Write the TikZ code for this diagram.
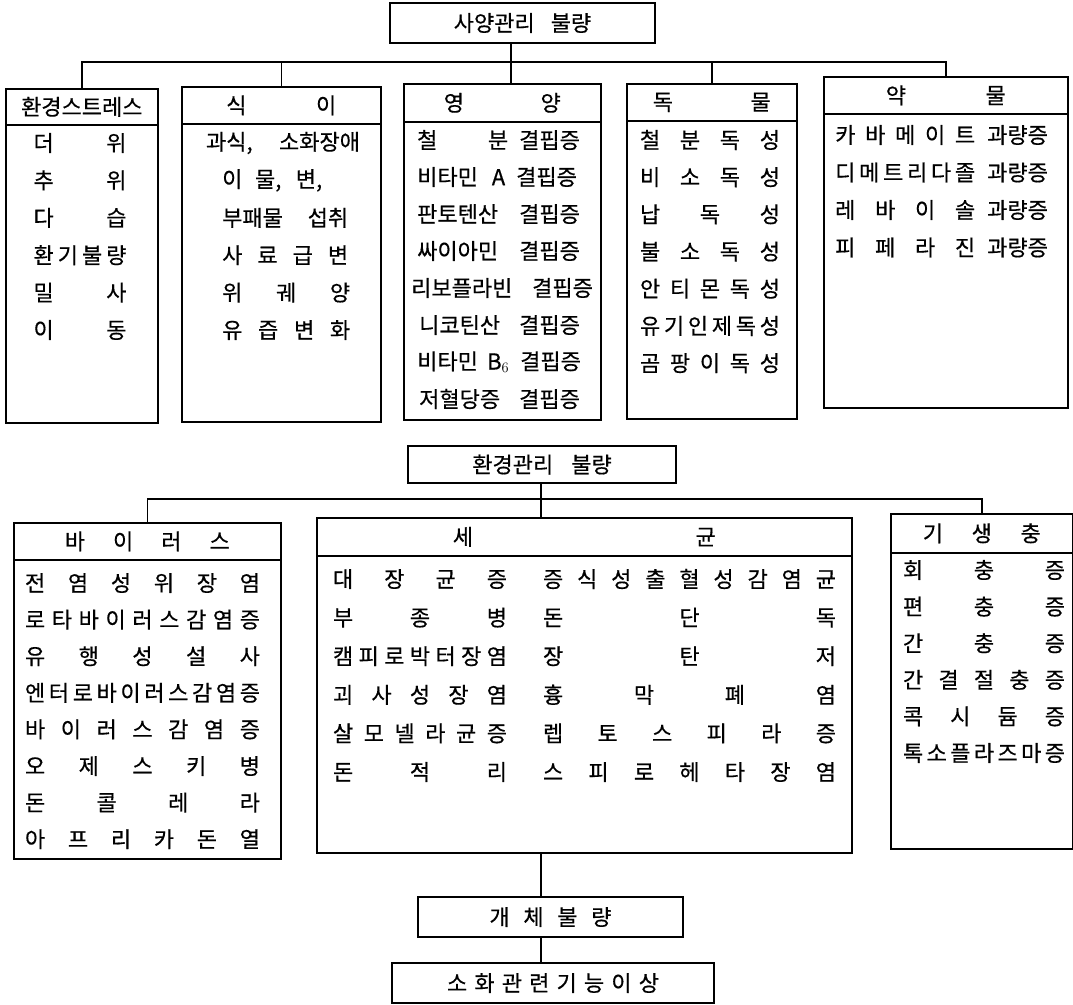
\documentclass[tikz,border=0pt]{standalone}
\usepackage{fontspec}
\setmainfont{Noto Sans CJK KR}[UprightFeatures={FakeBold=0.5}]
\hbadness=10000
\newcommand{\spread}[2]{\makebox[#2][s]{#1}}

\begin{document}
\begin{tikzpicture}[x=1pt, y=-1pt,
  every node/.style={inner sep=0pt, font=\fontsize{22pt}{26pt}\selectfont},
  mainbox/.style={draw, line width=1.6pt, minimum height=40pt},
  catbox/.style={draw, line width=1.6pt, anchor=north west},
  headbox/.style={draw, line width=1.6pt, anchor=north west},
  link/.style={line width=1.6pt}]

\useasboundingbox (0,0) rectangle (1073,1004);

% feeding management
\node[mainbox, minimum width=265pt] (feed) at (522.5,23) {사양관리\hspace{16pt}불량};

\node[catbox, minimum width=152pt, minimum height=334pt] (env) at (5,88) {};
\node[headbox, minimum width=152pt, minimum height=36pt] (envh) at (5,88) {환경스트레스};
\node[catbox, minimum width=199pt, minimum height=335pt] (sik) at (181,86) {};
\node[headbox, minimum width=199pt, minimum height=37pt] (sikh) at (181,86) {\spread{식 이}{110pt}};
\node[catbox, minimum width=197pt, minimum height=336pt] (yng) at (403,83) {};
\node[headbox, minimum width=197pt, minimum height=38pt] (yngh) at (403,83) {\spread{영 양}{117pt}};
\node[catbox, minimum width=170pt, minimum height=335pt] (dok) at (626,83) {};
\node[headbox, minimum width=170pt, minimum height=37pt] (dokh) at (626,83) {\spread{독 물}{118pt}};
\node[catbox, minimum width=244pt, minimum height=331pt] (yak) at (823,76) {};
\node[headbox, minimum width=244pt, minimum height=37pt] (yakh) at (823,76) {\spread{약 물}{120pt}};

\foreach \t [count=\i] in {더 위, 추 위, 다 습, 환 기 불 량, 밀 사, 이 동}
  \node (env\i) at (80,{143+37.4*(\i-1)}) {\spread{\t}{93pt}};

\node (sik1) at (283,143) {\spread{과식, 소화장애}{154pt}};
\foreach \t/\w [count=\i from 2] in {{이 물, 변,}/100, 부패물 섭취/126, 사 료 급 변/126, 위 궤 양/128, 유 즙 변 화/128}
  \node[anchor=west] (sik\i) at (222,{143+37.4*(\i-1)}) {\spread{\t}{\w pt}};

\foreach \t/\x/\w [count=\i] in {철 분/417/91, 비타민 A/417/88, 판토텐산/417/91, 싸이아민/417/91,
    리보플라빈/411/110, 니코틴산/419/89, 비타민 B$_6$/417/92, 저혈당증/419/89}
  \node[anchor=west] (yng\i) at (\x,{140+37*(\i-1)}) {\spread{\t}{\w pt}\hspace{11pt}결핍증};

\foreach \t [count=\i] in {철 분 독 성, 비 소 독 성, 납 독 성, 불 소 독 성, 안 티 몬 독 성,
    유 기 인 제 독 성, 곰 팡 이 독 성}
  \node (dok\i) at (710,{140+37.2*(\i-1)}) {\spread{\t}{140pt}};

\foreach \t [count=\i] in {카 바 메 이 트, 디 메 트 리 다 졸, 레 바 이 솔, 피 페 라 진}
  \node[anchor=west] (yak\i) at (835,{135+37.5*(\i-1)}) {\spread{\t}{140pt}\hspace{12pt}과량증};

\coordinate (s1) at (511,62);
\draw[link] (s1 |- feed.south) -- (s1 |- yng.north);
\foreach \b in {env,sik,dok,yak}
  \draw[link] (\b.north) |- (s1);

% environment management
\node[mainbox, minimum width=268pt, minimum height=37pt] (mng) at (542,464.5) {환경관리\hspace{18pt}불량};

\node[catbox, minimum width=267pt, minimum height=336pt] (vir) at (13,522) {};
\node[headbox, minimum width=267pt, minimum height=37pt] (virh) at (13,522) {\spread{바 이 러 스}{165pt}};
\node[catbox, minimum width=535pt, minimum height=335pt] (bac) at (316,517) {};
\node[headbox, minimum width=535pt, minimum height=38pt] (bach) at (316,517) {\spread{세 균}{263pt}};
\node[catbox, minimum width=182pt, minimum height=335pt] (par) at (890,513) {};
\node[headbox, minimum width=182pt, minimum height=39pt] (parh) at (890,513) {\spread{기 생 충}{118pt}};

\foreach \t [count=\i] in {전 염 성 위 장 염, 로 타 바 이 러 스 감 염 증, 유 행 성 설 사,
    엔 터 로 바 이 러 스 감 염 증, 바 이 러 스 감 염 증, 오 제 스 키 병, 돈 콜 레 라, 아 프 리 카 돈 열}
  \node (vir\i) at (142.5,{583+36.6*(\i-1)}) {\spread{\t}{235pt}};

\foreach \t [count=\i] in {대 장 균 증, 부 종 병, 캠 피 로 박 터 장 염, 괴 사 성 장 염, 살 모 넬 라 균 증, 돈 적 리}
  \node (bacl\i) at (420,{579+38.6*(\i-1)}) {\spread{\t}{174pt}};
\foreach \t [count=\i] in {증 식 성 출 혈 성 감 염 균, 돈 단 독, 장 탄 저, 흉 막 폐 염,
    렙 토 스 피 라 증, 스 피 로 헤 타 장 염}
  \node (bacr\i) at (689.5,{579+38.6*(\i-1)}) {\spread{\t}{293pt}};

\foreach \t [count=\i] in {회 충 증, 편 충 증, 간 충 증, 간 결 절 충 증, 콕 시 듐 증, 톡 소 플 라 즈 마 증}
  \node (par\i) at (984,{570+36.6*(\i-1)}) {\spread{\t}{162pt}};

\node[mainbox, minimum width=265pt] (indiv) at (550.5,917) {\spread{개 체 불 량}{122pt}};
\node[mainbox, minimum width=322pt] (dig) at (553,983) {\spread{소 화 관 련 기 능 이 상}{212pt}};

\coordinate (s2) at (541,499);
\draw[link] (s2 |- mng.south) -- (s2 |- bac.north);
\foreach \b in {vir,par}
  \draw[link] (\b.north) |- (s2);
\draw[link] (s2 |- bac.south) -- (s2 |- indiv.north);
\draw[link] (s2 |- indiv.south) -- (s2 |- dig.north);
\end{tikzpicture}
\end{document}
